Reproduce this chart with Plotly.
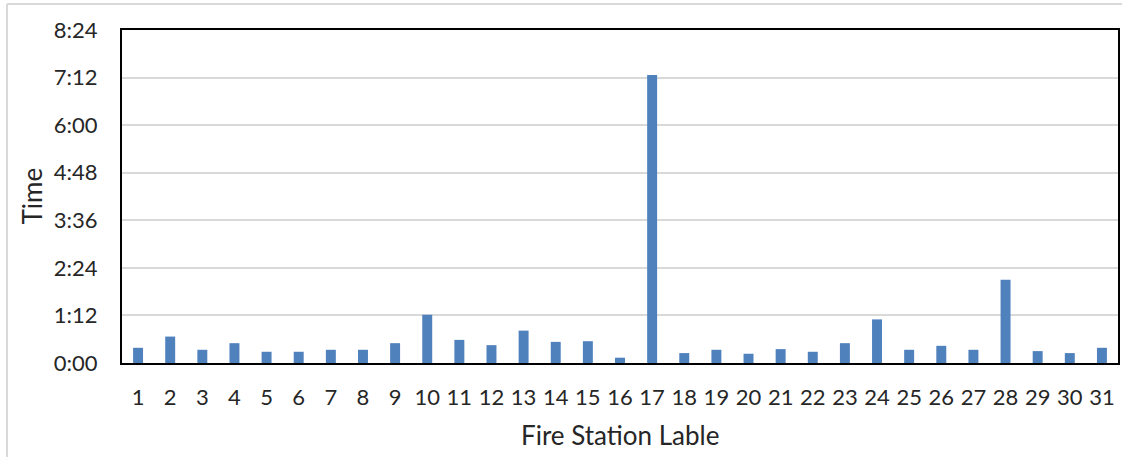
import plotly.graph_objects as go

# Response time per fire station, in minutes
stations = [str(i) for i in range(1, 32)]
minutes = [23, 40, 20, 30, 17, 17, 20, 20, 30, 73, 35, 27, 49, 32, 33, 8,
           436, 15, 20, 14, 21, 17, 30, 66, 20, 26, 20, 126, 18, 15, 23]

# y-axis ticks every 72 minutes, labelled h:mm
tick_vals = [0, 72, 144, 216, 288, 360, 432, 504]
tick_text = ["0:00", "1:12", "2:24", "3:36", "4:48", "6:00", "7:12", "8:24"]

W, H = 1122, 457
L, R, T, B = 122, 4, 30, 94
pw, ph = W - L - R, H - T - B

def px(x):
    return (x - L) / pw

def py(y):
    return (H - B - y) / ph

font = "Lato, 'Open Sans', sans-serif"

fig = go.Figure(go.Bar(x=stations, y=minutes, marker_color="#4F81BD",
                       marker_line_width=0))

fig.update_layout(
    width=W, height=H,
    margin=dict(l=L, r=R, t=T, b=B, autoexpand=False),
    paper_bgcolor="white", plot_bgcolor="white",
    bargap=0.69, showlegend=False,
    font=dict(family=font, size=22, color="#262626"),
)
fig.update_xaxes(
    type="category", showline=True, linecolor="black", linewidth=2,
    mirror=True, showgrid=False, ticks="", ticklabelstandoff=14,
    tickfont=dict(size=22),
)
fig.update_yaxes(
    range=[0, 504], tickvals=tick_vals, ticktext=tick_text,
    showline=True, linecolor="black", linewidth=2, mirror=True,
    showgrid=True, gridcolor="#d9d9d9", gridwidth=1.5, zeroline=False,
    ticks="", ticklabelstandoff=18, tickfont=dict(size=22),
)

# Axis titles
fig.add_annotation(text="Time", xref="paper", yref="paper", x=px(31), y=0.5,
                   textangle=-90, showarrow=False, xanchor="center",
                   yanchor="middle", font=dict(size=26))
fig.add_annotation(text="Fire Station Lable", xref="paper", yref="paper",
                   x=0.5, y=py(435), showarrow=False, xanchor="center",
                   yanchor="middle", font=dict(size=26))

# Light frame around the chart area
fig.add_shape(type="line", xref="paper", yref="paper",
              x0=px(7), x1=px(W), y0=py(4), y1=py(4),
              line=dict(color="#d9d9d9", width=2))
fig.add_shape(type="line", xref="paper", yref="paper",
              x0=px(7), x1=px(7), y0=py(4), y1=py(H),
              line=dict(color="#d9d9d9", width=2))

fig.write_html("out.html")
